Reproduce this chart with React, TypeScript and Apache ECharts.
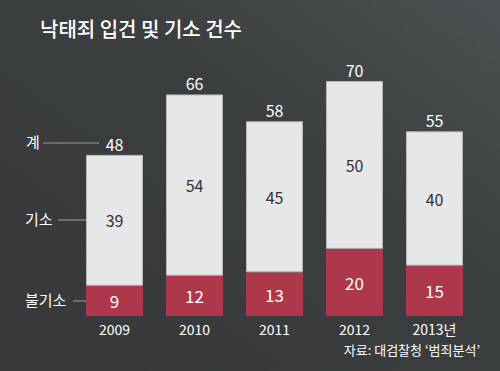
import React, { useEffect, useRef } from "react";
import * as echarts from "echarts";

const years = ["2009", "2010", "2011", "2012", "2013년"];
const indicted = [39, 54, 45, 50, 40];
const notIndicted = [9, 12, 13, 20, 15];
const totals = [48, 66, 58, 70, 55];

const FONT = "'Noto Sans CJK KR', 'Noto Sans', sans-serif";

export default function App() {
  const ref = useRef<HTMLDivElement>(null);
  useEffect(() => {
    const chart = echarts.init(ref.current!, null, { renderer: "svg" });
    chart.setOption({
      animation: false,
      backgroundColor: {
        type: "linear",
        x: 0,
        y: 1,
        x2: 1,
        y2: 0,
        colorStops: [
          { offset: 0, color: "#363839" },
          { offset: 0.6, color: "#3b3e3f" },
          { offset: 1, color: "#4b5152" },
        ],
      },
      textStyle: { fontFamily: FONT },
      title: {
        text: "낙태죄 입건 및 기소 건수",
        left: 35,
        top: 13,
        textStyle: { color: "#ffffff", fontSize: 20, fontWeight: 500, fontFamily: FONT },
      },
      grid: { left: 74.5, right: 25.5, top: 81, bottom: 55, containLabel: false },
      xAxis: {
        type: "category",
        data: years,
        axisLine: { show: false },
        axisTick: { show: false },
        axisLabel: { color: "#ffffff", fontSize: 14, margin: 6, fontFamily: FONT },
      },
      yAxis: { type: "value", min: 0, max: 70, show: false, splitLine: { show: false } },
      series: [
        {
          name: "불기소",
          type: "bar",
          stack: "s",
          barWidth: 57,
          data: notIndicted,
          itemStyle: { color: "#ae384b" },
          label: { show: true, position: "inside", color: "#ffffff", fontSize: 17, fontWeight: "normal", fontFamily: FONT },
        },
        {
          name: "기소",
          type: "bar",
          stack: "s",
          barWidth: 57,
          data: indicted,
          itemStyle: { color: "#e6e7e8", borderColor: "#b5b7b9", borderWidth: 1 },
          label: { show: true, position: "inside", color: "#333333", fontSize: 16, fontFamily: FONT },
        },
        {
          name: "계",
          type: "bar",
          barWidth: 57,
          barGap: "-100%",
          data: totals,
          z: 1,
          itemStyle: { color: "rgba(0,0,0,0)" },
          label: { show: true, position: "top", distance: 3, color: "#ffffff", fontSize: 16, fontFamily: FONT },
          silent: true,
        },
      ],
      graphic: [
        { type: "text", left: 26, top: 134, style: { text: "계", fill: "#ffffff", font: `15px ${FONT}` } },
        { type: "line", shape: { x1: 43, y1: 143, x2: 99, y2: 143 }, style: { stroke: "#9a9c9e", lineWidth: 1 } },
        { type: "text", left: 25, top: 211, style: { text: "기소", fill: "#ffffff", font: `15px ${FONT}` } },
        { type: "line", shape: { x1: 58, y1: 220, x2: 86, y2: 220 }, style: { stroke: "#9a9c9e", lineWidth: 1 } },
        { type: "text", left: 25, top: 292, style: { text: "불기소", fill: "#ffffff", font: `15px ${FONT}` } },
        { type: "line", shape: { x1: 73, y1: 301, x2: 86, y2: 301 }, style: { stroke: "#9a9c9e", lineWidth: 1 } },
        { type: "text", right: 20, top: 343, style: { text: "자료: 대검찰청 ‘범죄분석’", fill: "#ffffff", font: `13px ${FONT}` } },
      ],
    });
    return () => chart.dispose();
  }, []);
  return <div ref={ref} style={{ width: 500, height: 371, position: "absolute", left: 0, top: 0 }} />;
}
